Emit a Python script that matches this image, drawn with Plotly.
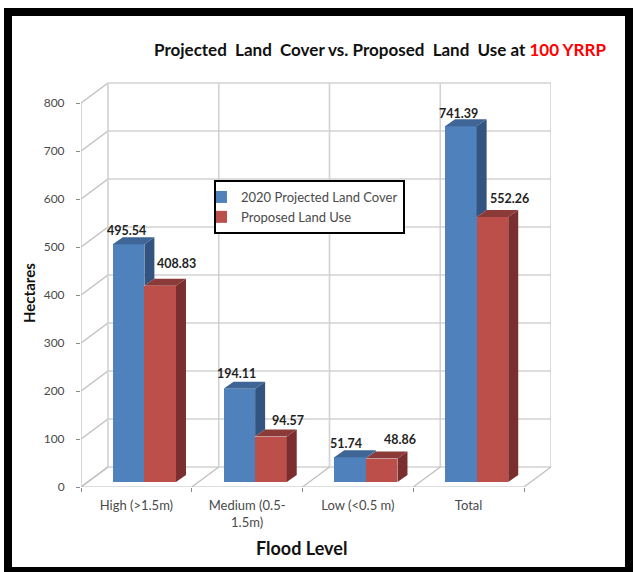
import plotly.graph_objects as go

# Chart values
categories = ["High (>1.5m)", "Medium (0.5-<br>1.5m)", "Low (<0.5 m)", "Total"]
projected_cover = [495.54, 194.11, 51.74, 741.39]
proposed_use = [408.83, 94.57, 48.86, 552.26]
value_ticks = [0, 100, 200, 300, 400, 500, 600, 700, 800]

# Page geometry in pixels and the pixel scale of each axis
WIDTH, HEIGHT = 635, 572
LEFT, RIGHT, TOP, BOTTOM = 81, 551, 82, 487
PX_PER_CAT = 110.75
PX_PER_HA = 0.48

def dx(px):
    return px / PX_PER_CAT

def dy(px):
    return px / PX_PER_HA

def paper_x(px):
    return (px - LEFT) / (RIGHT - LEFT)

def paper_y(py):
    return (BOTTOM - py) / (BOTTOM - TOP)

# Oblique projection: wall depth, bar depth, where bars stand on the floor
WALL_DX, WALL_DY = dx(27), dy(20)
BAR_DX, BAR_DY = dx(10), dy(7)
FLOOR_DX, FLOOR_DY = dx(8), dy(5)
BAR_W = dx(31.6)
N = len(categories)

BLUE, BLUE_TOP, BLUE_SIDE = "#4f81bd", "#3e6595", "#335480"
RED, RED_TOP, RED_SIDE = "#bd4f4a", "#8c3a38", "#7a2f2e"
WALL = "#d2d2d2"
EDGE = "#bdbdbd"
TEXT = "#4a4a4a"
FONT = "Lato"

centers_a = [i + 0.5 + FLOOR_DX - BAR_W / 2 for i in range(N)]
centers_b = [i + 0.5 + FLOOR_DX + BAR_W / 2 for i in range(N)]

fig = go.Figure()

fig.add_bar(x=centers_a, y=projected_cover, base=FLOOR_DY, width=BAR_W,
            marker=dict(color=BLUE, line_width=0), name="2020 Projected Land Cover")
fig.add_bar(x=centers_b, y=proposed_use, base=FLOOR_DY, width=BAR_W,
            marker=dict(color=RED, line_width=0), name="Proposed Land Use")


def add_faces(xs, ys):
    poly_x, poly_y = [], []
    for group_x, group_y in zip(xs, ys):
        poly_x += group_x + [group_x[0], None]
        poly_y += group_y + [group_y[0], None]
    return poly_x, poly_y


def face_trace(xs, ys, color):
    px, py = add_faces(xs, ys)
    fig.add_scatter(x=px, y=py, mode="lines", fill="toself", fillcolor=color,
                    line=dict(width=0, color=color), showlegend=False, hoverinfo="skip")


blue_side_x, blue_side_y, blue_top_x, blue_top_y = [], [], [], []
red_side_x, red_side_y, red_top_x, red_top_y = [], [], [], []
for xa, xb, va, vb in zip(centers_a, centers_b, projected_cover, proposed_use):
    a_top = va + FLOOR_DY
    b_top = vb + FLOOR_DY
    ar = xa + BAR_W / 2
    al = xa - BAR_W / 2
    br = xb + BAR_W / 2
    bl = xb - BAR_W / 2
    # The blue side only shows above the neighbouring red bar
    blue_side_x.append([ar, ar + BAR_DX, ar + BAR_DX, ar])
    blue_side_y.append([a_top, a_top + BAR_DY, b_top + BAR_DY, b_top])
    blue_top_x.append([al, ar, ar + BAR_DX, al + BAR_DX])
    blue_top_y.append([a_top, a_top, a_top + BAR_DY, a_top + BAR_DY])
    red_side_x.append([br, br + BAR_DX, br + BAR_DX, br])
    red_side_y.append([b_top, b_top + BAR_DY, FLOOR_DY + BAR_DY, FLOOR_DY])
    red_top_x.append([bl, br, br + BAR_DX, bl + BAR_DX])
    red_top_y.append([b_top, b_top, b_top + BAR_DY, b_top + BAR_DY])

face_trace(blue_side_x, blue_side_y, BLUE_SIDE)
face_trace(blue_top_x, blue_top_y, BLUE_TOP)
face_trace(red_side_x, red_side_y, RED_SIDE)
face_trace(red_top_x, red_top_y, RED_TOP)

# Walls and floor sit beneath the bars
shapes = []


def wall_line(x0, y0, x1, y1, color=WALL, width=1.6):
    shapes.append(dict(type="line", xref="x", yref="y", x0=x0, y0=y0, x1=x1, y1=y1,
                       layer="below", line=dict(color=color, width=width)))


top_tick = value_ticks[-1]
for v in value_ticks:
    wall_line(WALL_DX, v + WALL_DY, N + WALL_DX, v + WALL_DY)
    wall_line(0, v, WALL_DX, v + WALL_DY, color=EDGE, width=1.2)
for i in range(N + 1):
    wall_line(i + WALL_DX, WALL_DY, i + WALL_DX, top_tick + WALL_DY)
    wall_line(i, 0, i + WALL_DX, WALL_DY, color=EDGE, width=1.2)
wall_line(0, 0, 0, top_tick, color=EDGE, width=1.2)
wall_line(0, 0, N, 0, color=EDGE, width=1.2)

# Black picture frame around the whole chart
shapes.append(dict(type="rect", xref="paper", yref="paper",
                   x0=paper_x(8), x1=paper_x(629), y0=paper_y(12), y1=paper_y(571),
                   line=dict(color="black", width=8), layer="above"))

annotations = []

# Value labels hang off each bar top, nudged clear of its neighbour
label_dx_a = [-2, -2.5, -4, -2.5]
label_up_a = [14, 15, 14, 13]
label_dx_b = [16, 17, 18, 17]
label_up_b = [22, 16, 19, 18]
for xs, vals, shift_x, shift_y in ((centers_a, projected_cover, label_dx_a, label_up_a),
                                   (centers_b, proposed_use, label_dx_b, label_up_b)):
    for x, v, sx, sy in zip(xs, vals, shift_x, shift_y):
        annotations.append(dict(x=x, y=v + FLOOR_DY, xref="x", yref="y", text=f"<b>{v:.2f}</b>",
                                showarrow=False, xshift=sx, yshift=sy, xanchor="center",
                                yanchor="middle", font=dict(family=FONT, size=12.5, color="#1f1f1f")))

annotations.append(dict(x=paper_x(29), y=paper_y(293), xref="paper", yref="paper", text="<b>Hectares</b>",
                        textangle=-90, showarrow=False, xanchor="center", yanchor="middle",
                        font=dict(family=FONT, size=15, color="#111111")))
annotations.append(dict(x=paper_x(301), y=paper_y(548), xref="paper", yref="paper", text="<b>Flood Level</b>",
                        showarrow=False, xanchor="center", yanchor="middle",
                        font=dict(family=FONT, size=18, color="#111111")))
annotations.append(dict(x=paper_x(380), y=paper_y(49), xref="paper", yref="paper",
                        text="<b>Projected\u00a0 Land\u00a0 Cover vs. Proposed\u00a0 Land\u00a0 Use at "
                             "<span style='color:#ff0000'>100 YRRP</span></b>",
                        showarrow=False, xanchor="center", yanchor="middle",
                        font=dict(family=FONT, size=17, color="#111111")))

fig.update_layout(
    width=WIDTH, height=HEIGHT,
    margin=dict(l=LEFT, r=WIDTH - RIGHT, t=TOP, b=HEIGHT - BOTTOM, pad=0),
    paper_bgcolor="white", plot_bgcolor="white",
    barmode="overlay", bargap=0,
    font=dict(family=FONT, size=12, color=TEXT),
    shapes=shapes, annotations=annotations,
    legend=dict(x=paper_x(214), y=paper_y(180), xanchor="left", yanchor="top",
                bgcolor="white", bordercolor="black", borderwidth=2,
                indentation=-15, font=dict(family=FONT, size=13, color=TEXT)),
    xaxis=dict(range=[0, (RIGHT - LEFT) / PX_PER_CAT], tickvals=[i + 0.5 for i in range(N)],
               ticktext=categories, ticks="", showgrid=False, zeroline=False, showline=False,
               ticklabelstandoff=9, tickangle=0, tickfont=dict(family=FONT, size=13, color=TEXT),
               minor=dict(tickvals=list(range(N + 1)), ticks="outside", ticklen=4,
                          tickcolor="#8a8a8a", tickwidth=1, showgrid=False)),
    yaxis=dict(range=[0, (BOTTOM - TOP) / PX_PER_HA], tickvals=value_ticks, ticks="outside",
               ticklen=4, tickcolor="#8a8a8a", tickwidth=1, showgrid=False, zeroline=False,
               showline=False, ticklabelstandoff=9),
)

fig.write_html("out.html")
